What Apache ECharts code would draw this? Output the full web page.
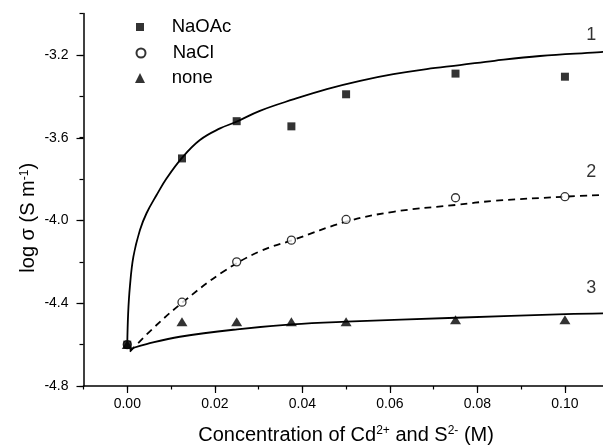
<!DOCTYPE html>
<html>
<head>
<meta charset="utf-8">
<script src="https://cdn.jsdelivr.net/npm/echarts@6/dist/echarts.min.js"></script>
<style>
  html, body { margin: 0; padding: 0; background: #fff; }
  #chart { width: 603px; height: 448px; }
</style>
</head>
<body>
<div id="chart"></div>
<script>
// measured points (concentration in M, log sigma)
const conc = [0, 0.0125, 0.025, 0.0375, 0.05, 0.075, 0.1];
const naoac = [-4.60, -3.70, -3.52, -3.545, -3.39, -3.29, -3.305];
const nacl = [-4.60, -4.395, -4.20, -4.095, -3.995, -3.89, -3.885];
const none = [-4.60, -4.49, -4.49, -4.49, -4.49, -4.48, -4.48];

// fitted curves
const curve1X = [0, 0.0002, 0.0006, 0.0014, 0.0029, 0.0044, 0.0067, 0.009, 0.0126, 0.0166, 0.0212, 0.0248, 0.0303, 0.0379, 0.0456, 0.0532, 0.0608, 0.0684, 0.076, 0.0839, 0.0943, 0.1073, 0.11];
const curve1Y = [-4.60, -4.45, -4.32, -4.175, -4.046, -3.965, -3.877, -3.796, -3.695, -3.611, -3.555, -3.524, -3.47, -3.415, -3.365, -3.325, -3.293, -3.268, -3.249, -3.228, -3.205, -3.187, -3.183];
const curve2X = [0.0006, 0.0059, 0.0128, 0.0219, 0.0303, 0.0379, 0.05, 0.0608, 0.075, 0.0839, 0.0999, 0.11];
const curve2Y = [-4.634, -4.521, -4.393, -4.248, -4.149, -4.094, -4.006, -3.958, -3.925, -3.905, -3.885, -3.875];
const curve3X = [0.0006, 0.0015, 0.0044, 0.012, 0.0251, 0.0376, 0.05, 0.0751, 0.1002, 0.11];
const curve3Y = [-4.626, -4.615, -4.597, -4.562, -4.526, -4.502, -4.489, -4.470, -4.453, -4.449];

// curve numbers at the right end
const curveLabelX = [0.106, 0.106, 0.106];
const curveLabelY = [-3.103, -3.764, -4.328];
const curveLabelText = ['1', '2', '3'];

const FONT = '"Liberation Sans", Arial, sans-serif';
const zip = (xs, ys) => xs.map((x, i) => [x, ys[i]]);

const chart = echarts.init(document.getElementById('chart'), null, { renderer: 'canvas' });

const black = '#000';
const nameRich = {
  a: { fontSize: 20, fontFamily: FONT, color: black },
  b: { fontSize: 12, fontFamily: FONT, color: black, verticalAlign: 'top' }
};

// one legend per item so each marker keeps its own size
const legendItem = (name, size, top) => ({
  data: [name],
  orient: 'vertical',
  left: 140 - size / 2,
  top: top,
  itemWidth: size,
  itemHeight: size,
  padding: 0,
  selectedMode: false,
  textStyle: {
    fontSize: 18.5, fontFamily: FONT, color: black,
    padding: [0, 0, 0, 171.7 - (140 + size / 2) - 5]
  }
});

chart.setOption({
  animation: false,
  backgroundColor: '#fff',
  grid: [
    // main plot frame
    { left: 83.5, right: -5.7, top: 13.6, bottom: 62, outerBoundsMode: 'none' },
    // x major ticks + labels (starts at 0.00)
    { left: 127.3, right: -5.7, top: 13.6, bottom: 62, outerBoundsMode: 'none' },
    // y major ticks + labels (ends at -3.2)
    { left: 83.5, right: -5.7, top: 55, bottom: 62, outerBoundsMode: 'none' }
  ],
  legend: [
    legendItem('NaOAc', 8, 17.5),
    legendItem('NaCl', 9, 43.5),
    legendItem('none', 10, 68.5)
  ],
  xAxis: [
    {
      gridIndex: 0, type: 'value', min: -0.01, max: 0.11, interval: 0.01,
      axisLine: { show: true, onZero: false, lineStyle: { color: black, width: 1.5 } },
      axisTick: { show: true, length: 3.5, lineStyle: { color: black, width: 1.2 } },
      axisLabel: { show: false },
      splitLine: { show: false },
      name: '{a|Concentration of Cd}{b|2+}{a| and S}{b|2-}{a| (M)}',
      nameLocation: 'middle',
      nameGap: 39,
      nameTextStyle: { fontSize: 20, fontFamily: FONT, color: black, rich: nameRich }
    },
    {
      gridIndex: 1, type: 'value', min: 0, max: 0.11, interval: 0.02,
      axisLine: { show: false, onZero: false },
      axisTick: { show: true, length: 7, lineStyle: { color: black, width: 1.2 } },
      axisLabel: {
        show: true, margin: 11, fontSize: 14, fontFamily: FONT, color: black,
        formatter: v => (v > 0.105 ? '' : v.toFixed(2))
      },
      splitLine: { show: false }
    },
    { gridIndex: 2, type: 'value', min: -0.01, max: 0.11, show: false }
  ],
  yAxis: [
    {
      gridIndex: 0, type: 'value', min: -4.8, max: -3.0, interval: 0.2,
      axisLine: { show: true, onZero: false, lineStyle: { color: black, width: 1.5 } },
      axisTick: { show: true, length: 4, lineStyle: { color: black, width: 1.2 } },
      axisLabel: { show: false },
      splitLine: { show: false },
      name: '{a|log σ (S m}{b|-1}{a|)}',
      nameLocation: 'middle',
      nameGap: 45,
      nameTextStyle: { fontSize: 20, fontFamily: FONT, color: black, padding: [0, 36, 0, 0], rich: nameRich }
    },
    { gridIndex: 1, type: 'value', min: -4.8, max: -3.0, show: false },
    {
      gridIndex: 2, type: 'value', min: -4.8, max: -3.2, interval: 0.4,
      axisLine: { show: false, onZero: false },
      axisTick: { show: true, length: 7, lineStyle: { color: black, width: 1.2 } },
      axisLabel: {
        show: true, margin: 15, fontSize: 14, fontFamily: FONT, color: black,
        formatter: v => v.toFixed(1)
      },
      splitLine: { show: false }
    }
  ],
  series: [
    {
      type: 'line', name: 'fit1', data: zip(curve1X, curve1Y),
      showSymbol: false, symbol: 'none', smooth: 0.4, silent: true,
      lineStyle: { color: black, width: 1.8 }, z: 2
    },
    {
      type: 'line', name: 'fit2', data: zip(curve2X, curve2Y),
      showSymbol: false, symbol: 'none', smooth: 0.4, silent: true,
      lineStyle: { color: black, width: 1.8, type: [7, 5] }, z: 2
    },
    {
      type: 'line', name: 'fit3', data: zip(curve3X, curve3Y),
      showSymbol: false, symbol: 'none', smooth: 0.4, silent: true,
      lineStyle: { color: black, width: 1.8 }, z: 2
    },
    {
      type: 'scatter', name: 'NaOAc', data: zip(conc, naoac),
      symbol: 'rect', symbolSize: 8, itemStyle: { color: black }, z: 4
    },
    {
      type: 'scatter', name: 'NaCl', data: zip(conc, nacl),
      symbol: 'circle', symbolSize: 8,
      itemStyle: { color: '#fff', borderColor: black, borderWidth: 1.3 }, z: 3
    },
    {
      type: 'scatter', name: 'none', data: zip(conc, none),
      symbol: 'triangle', symbolSize: [11, 9], itemStyle: { color: black }, z: 4
    },
    {
      type: 'scatter', name: 'curveLabels', silent: true,
      data: curveLabelX.map((x, i) => [x, curveLabelY[i], curveLabelText[i]]),
      symbolSize: 1, itemStyle: { color: 'rgba(0,0,0,0)' },
      label: {
        show: true, position: 'inside', formatter: p => p.value[2],
        fontSize: 18, fontFamily: FONT, color: black
      }
    }
  ]
});
</script>
</body>
</html>
